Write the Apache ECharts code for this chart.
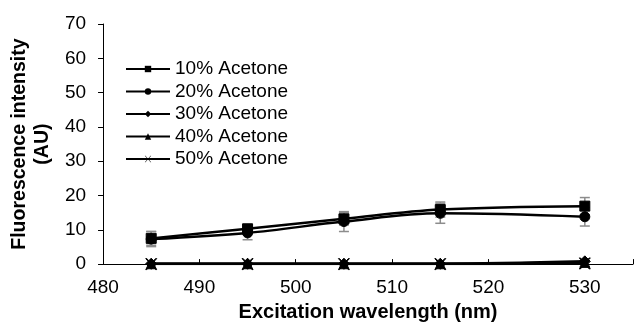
<!DOCTYPE html>
<html><head><meta charset="utf-8">
<script src="https://cdn.jsdelivr.net/npm/echarts@6/dist/echarts.min.js"></script>
<style>html,body{margin:0;padding:0;background:#fff}#c{width:636px;height:327px}</style>
</head><body><div id="c"></div>
<script>
const wavelengths = [485, 495, 505, 515, 530];
const seriesNames = ['10% Acetone', '20% Acetone', '30% Acetone', '40% Acetone', '50% Acetone'];
const acetone10 = [7.5, 10.3, 13.2, 15.9, 16.9];
const acetone20 = [7.3, 9.1, 12.4, 14.8, 13.8];
const acetone30 = [0.1, 0.1, 0.1, 0.1, 0.8];
const acetone40 = [0.1, 0.1, 0.1, 0.1, 0.5];
const acetone50 = [0.0, 0.0, 0.0, 0.0, 0.2];
const err10 = [2.0, 1.0, 1.8, 2.2, 2.5];
const err20 = [2.2, 2.0, 2.9, 2.9, 2.7];
const xTicks = [480, 490, 500, 510, 520, 530];
const yTicks = [0, 10, 20, 30, 40, 50, 60, 70];

const values = [acetone10, acetone20, acetone30, acetone40, acetone50];
const symbols = ['rect', 'circle', 'diamond', 'triangle',
  'path://M0,0 L2,0 L10,8 L18,0 L20,0 L11,9 L20,18 L18,18 L10,10 L2,18 L0,18 L9,9 Z'];
const sizes = [10, 10, 11, 10, 11];

const chart = echarts.init(document.getElementById('c'), null, {renderer: 'canvas'});
const font = 'Liberation Sans, Arial, sans-serif';

function errSeries(vals, errs) {
  return {
    type: 'custom',
    silent: true,
    z: 1,
    data: wavelengths.map((w, i) => [w, vals[i], errs[i]]),
    renderItem: function (params, api) {
      const x = api.value(0), y = api.value(1), e = api.value(2);
      const top = api.coord([x, y + e]);
      const bot = api.coord([x, y - e]);
      const c = 5;
      const st = {stroke: '#8c8c8c', lineWidth: 1.5};
      return {type: 'group', children: [
        {type: 'line', shape: {x1: top[0], y1: top[1], x2: bot[0], y2: bot[1]}, style: st},
        {type: 'line', shape: {x1: top[0] - c, y1: top[1], x2: top[0] + c, y2: top[1]}, style: st},
        {type: 'line', shape: {x1: bot[0] - c, y1: bot[1], x2: bot[0] + c, y2: bot[1]}, style: st}
      ]};
    }
  };
}

const lineSeries = seriesNames.map((n, k) => ({
  name: n,
  type: 'line',
  smooth: 0.35,
  data: wavelengths.map((w, i) => [w, values[k][i]]),
  symbol: symbols[k],
  symbolSize: sizes[k],
  showAllSymbol: true,
  lineStyle: {color: '#000', width: 2.5},
  itemStyle: {color: '#000', borderColor: '#000'},
  z: 3
}));

chart.setOption({
  animation: false,
  backgroundColor: '#fff',
  grid: {left: 97, right: 2, top: 24, bottom: 58, containLabel: false},
  legend: {
    orient: 'vertical', left: 120, top: 54,
    itemWidth: 44, itemHeight: 8, itemGap: 2.5,
    textStyle: {fontFamily: font, fontSize: 19, color: '#000', lineHeight: 20},
    data: seriesNames
  },
  xAxis: {
    type: 'value', min: 480, max: 535, interval: 10,
    name: 'Excitation wavelength (nm)', nameLocation: 'middle', nameGap: 37,
    nameTextStyle: {fontFamily: font, fontSize: 20, fontWeight: 'bold', color: '#000'},
    axisLine: {lineStyle: {color: '#000', width: 1}},
    axisTick: {inside: true, length: 5, lineStyle: {color: '#000'}},
    axisLabel: {fontFamily: font, fontSize: 19, color: '#000', margin: 14,
      formatter: v => xTicks.includes(v) ? String(v) : ''},
    splitLine: {show: false}
  },
  yAxis: {
    type: 'value', min: 0, max: 70, interval: 10,
    name: 'Fluorescence intensity\n(AU)', nameLocation: 'middle', nameGap: 40, nameRotate: 90,
    nameTextStyle: {fontFamily: font, fontSize: 19.5, fontWeight: 'bold', color: '#000', lineHeight: 23},
    axisLine: {show: true, lineStyle: {color: '#000', width: 1}},
    axisTick: {show: true, inside: false, length: 5, lineStyle: {color: '#000'}},
    axisLabel: {fontFamily: font, fontSize: 19, color: '#000', margin: 17,
      formatter: v => yTicks.includes(v) ? String(v) : ''},
    splitLine: {show: false}
  },
  series: [errSeries(acetone10, err10), errSeries(acetone20, err20)].concat(lineSeries)
});
</script></body></html>
